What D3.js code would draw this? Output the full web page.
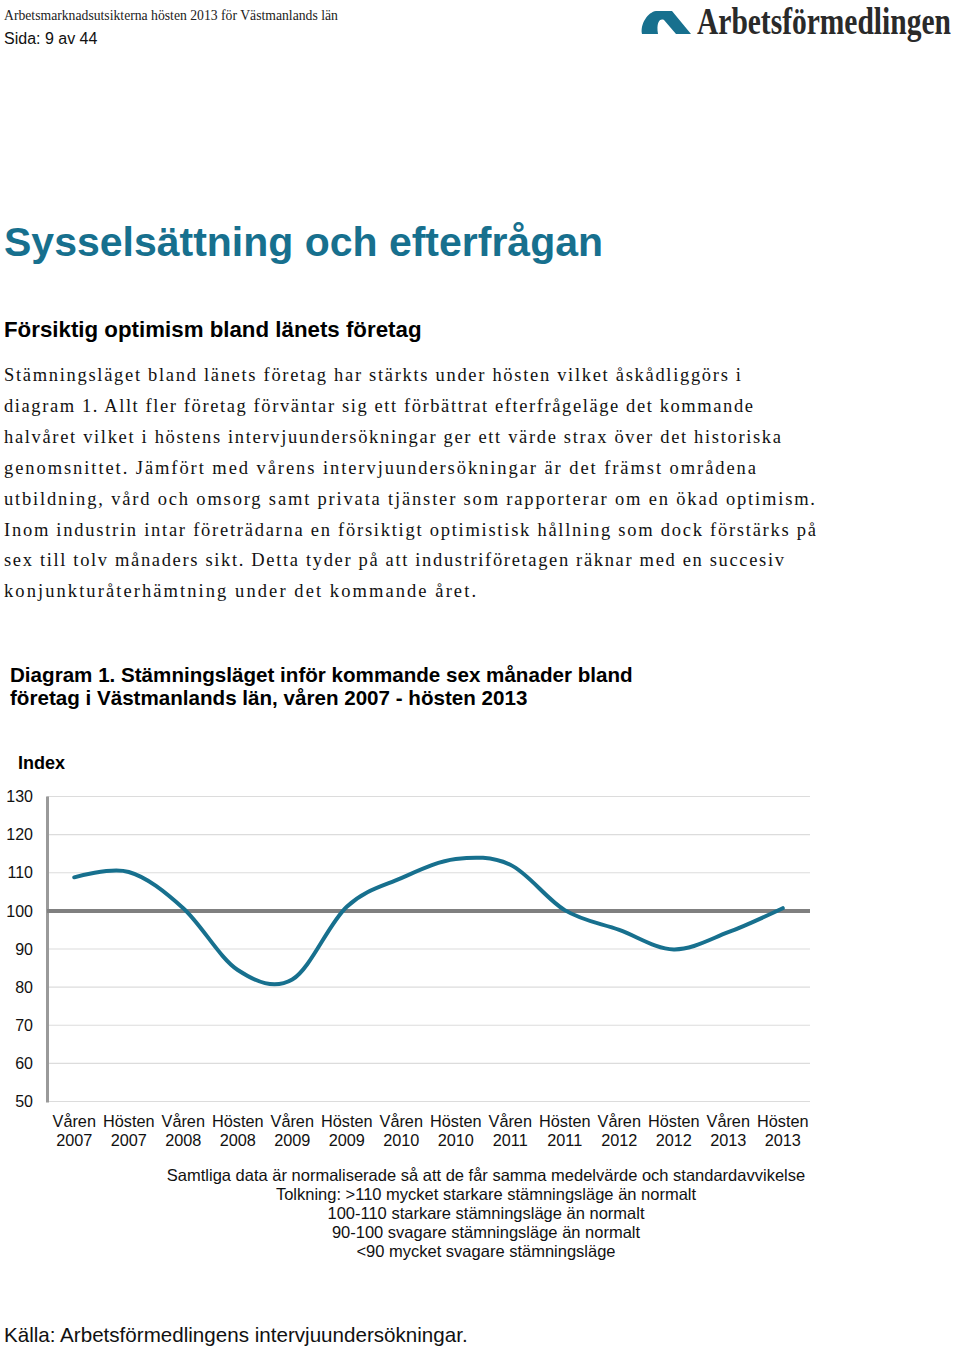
<!DOCTYPE html>
<html><head><meta charset="utf-8">
<script src="https://cdn.jsdelivr.net/npm/d3@7"></script>
<style>body{margin:0;background:#fff}svg{display:block}</style>
</head><body>
<svg id="c" width="960" height="1348"></svg>
<script>
const categories = ["Våren 2007","Hösten 2007","Våren 2008","Hösten 2008","Våren 2009","Hösten 2009","Våren 2010","Hösten 2010","Våren 2011","Hösten 2011","Våren 2012","Hösten 2012","Våren 2013","Hösten 2013"];
const indexValues = [108.8,110.2,100.7,84.5,82.0,101.1,108.6,113.6,112.1,100.2,95.0,89.9,94.4,100.7];
const yTicks = [50,60,70,80,90,100,110,120,130];
const bodyLines = [
 "Stämningsläget bland länets företag har stärkts under hösten vilket åskådliggörs i",
 "diagram 1. Allt fler företag förväntar sig ett förbättrat efterfrågeläge det kommande",
 "halvåret vilket i höstens intervjuundersökningar ger ett värde strax över det historiska",
 "genomsnittet. Jämfört med vårens intervjuundersökningar är det främst områdena",
 "utbildning, vård och omsorg samt privata tjänster som rapporterar om en ökad optimism.",
 "Inom industrin intar företrädarna en försiktigt optimistisk hållning som dock förstärks på",
 "sex till tolv månaders sikt. Detta tyder på att industriföretagen räknar med en succesiv",
 "konjunkturåterhämtning under det kommande året."
];
const bodyWidths = [737,749,777,752,811,812,780,472];
const notes = [
 "Samtliga data är normaliserade så att de får samma medelvärde och standardavvikelse",
 "Tolkning: >110 mycket starkare stämningsläge än normalt",
 "100-110 starkare stämningsläge än normalt",
 "90-100 svagare stämningsläge än normalt",
 "<90 mycket svagare stämningsläge"
];

(function(){
const svg = d3.select("#c");
const teal = "#17708e";
const sans = "'Liberation Sans', Arial, sans-serif";
const serif = "'Liberation Serif', 'Times New Roman', serif";

// Header
svg.append("text").attr("x",4).attr("y",20).attr("font-family",serif).attr("font-size",13.7)
  .attr("fill","#222").text("Arbetsmarknadsutsikterna hösten 2013 för Västmanlands län");
svg.append("text").attr("x",4).attr("y",44).attr("font-family",sans).attr("font-size",16)
  .attr("fill","#111").text("Sida: 9 av 44");
// Logo
svg.append("path").attr("d","M642,34 C640,24 648,12 656,11 L672,11 L691,34 L676,34 L664,20 C660,18 656,22 658,34 Z").attr("fill",teal);
svg.append("text").attr("transform","translate(697,34) scale(1,1.25)").attr("font-family",serif)
  .attr("font-weight","bold").attr("font-size",29.5)
  .attr("fill","#2a2a2a").text("Arbetsförmedlingen");

// Titles
svg.append("text").attr("x",4).attr("y",256).attr("font-family",sans).attr("font-weight","bold")
  .attr("font-size",41).attr("fill",teal).attr("textLength",599).attr("lengthAdjust","spacingAndGlyphs").text("Sysselsättning och efterfrågan");
svg.append("text").attr("x",4).attr("y",337).attr("font-family",sans).attr("font-weight","bold")
  .attr("font-size",22.3).attr("fill","#000").text("Försiktig optimism bland länets företag");

bodyLines.forEach((t,i)=>{
  svg.append("text").attr("x",4).attr("y",381+i*30.9).attr("font-family",serif).attr("font-size",18.5)
    .attr("fill","#111").attr("textLength",bodyWidths[i]).attr("lengthAdjust","spacing").text(t);
});

svg.append("text").attr("x",10).attr("y",682).attr("font-family",sans).attr("font-weight","bold")
  .attr("font-size",20.6).attr("fill","#000").text("Diagram 1. Stämningsläget inför kommande sex månader bland");
svg.append("text").attr("x",10).attr("y",705).attr("font-family",sans).attr("font-weight","bold")
  .attr("font-size",20.6).attr("fill","#000").text("företag i Västmanlands län, våren 2007 - hösten 2013");

// Chart
const pL = 47, pR = 810, pT = 796.5, pB = 1101.5;
const x = d3.scaleBand().domain(categories).range([pL,pR]);
const y = d3.scaleLinear().domain([50,130]).range([pB,pT]);

svg.append("text").attr("x",18).attr("y",769).attr("font-family",sans).attr("font-weight","bold")
  .attr("font-size",18).attr("fill","#000").text("Index");

const grid = svg.append("g");
grid.selectAll("line").data(yTicks.filter(d=>d!==100)).join("line")
  .attr("x1",pL).attr("x2",pR).attr("y1",d=>y(d)).attr("y2",d=>y(d))
  .attr("stroke","#dcdcdc").attr("stroke-width",1.2);

const yAxis = svg.append("g").attr("transform",`translate(${pL},0)`)
  .call(d3.axisLeft(y).tickValues(yTicks).tickSize(0).tickPadding(14));
yAxis.select(".domain").remove();
yAxis.selectAll("text").attr("font-family",sans).attr("font-size",16).attr("fill","#111");

svg.append("line").attr("x1",pL+0.5).attr("x2",pL+0.5).attr("y1",pT).attr("y2",pB+1)
  .attr("stroke","#9a9a9a").attr("stroke-width",3);
svg.append("line").attr("x1",pL).attr("x2",pR).attr("y1",y(100)).attr("y2",y(100))
  .attr("stroke","#808080").attr("stroke-width",4);

const line = d3.line().x((d,i)=>x(categories[i])+x.bandwidth()/2).y(d=>y(d)).curve(d3.curveCatmullRom.alpha(0));
svg.append("path").datum(indexValues).attr("d",line).attr("fill","none")
  .attr("stroke",teal).attr("stroke-width",4).attr("stroke-linecap","round");

const xAxis = svg.append("g").attr("transform",`translate(0,${pB})`)
  .call(d3.axisBottom(x).tickSize(0).tickFormat(""));
xAxis.select(".domain").remove();
const xl = svg.append("g");
categories.forEach(c=>{
  const [a,b] = c.split(" ");
  const cx = x(c)+x.bandwidth()/2;
  const t = xl.append("text").attr("text-anchor","middle").attr("font-family",sans).attr("font-size",16.3).attr("fill","#111");
  t.append("tspan").attr("x",cx).attr("y",1127).text(a);
  t.append("tspan").attr("x",cx).attr("y",1146).text(b);
});

notes.forEach((t,i)=>{
  svg.append("text").attr("x",486).attr("y",1181+i*19).attr("text-anchor","middle")
    .attr("font-family",sans).attr("font-size",16.5).attr("fill","#111").text(t);
});

svg.append("text").attr("x",4).attr("y",1342).attr("font-family",sans).attr("font-size",20.6)
  .attr("fill","#111").text("Källa: Arbetsförmedlingens intervjuundersökningar.");
})();
</script>
</body></html>
